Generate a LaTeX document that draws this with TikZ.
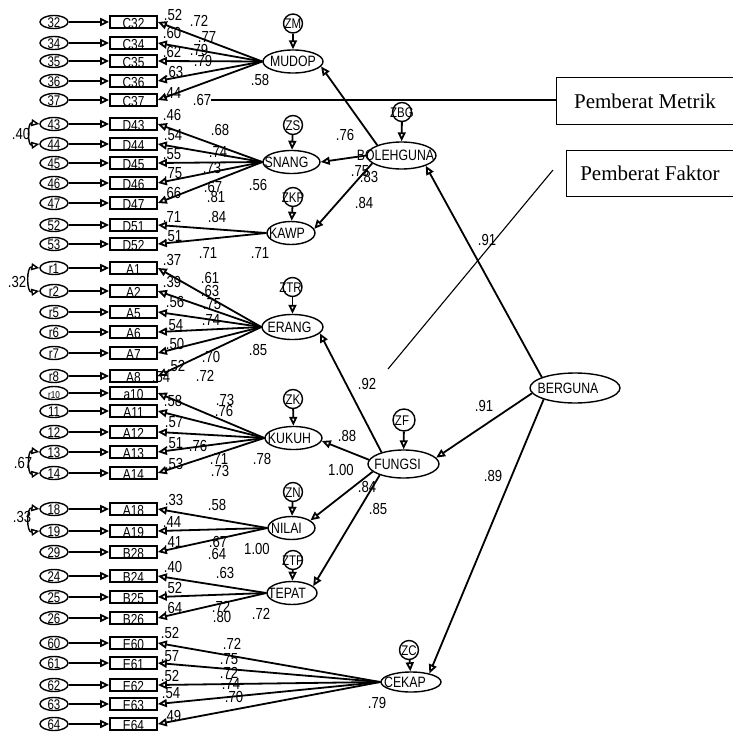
\documentclass[tikz,border=0pt]{standalone}
\usepackage{fontspec}
\setmainfont{Liberation Sans}[FakeStretch=0.82]
\newfontfamily\legendfont{Liberation Serif}
\usetikzlibrary{arrows.meta}
\usetikzlibrary{shapes.geometric}
\usetikzlibrary{positioning}

% text that does not size its node (optional left shift)
\newcommand{\zw}[2][0pt]{\makebox[0pt]{\kern-#1\raisebox{-.36em}[0pt][0pt]{#2}\kern#1}}
% text sitting low in an indicator box
\newcommand{\lowtxt}[1]{\makebox[0pt]{\raisebox{-.44em}[0pt][0pt]{#1}}}

\begin{document}
\begin{tikzpicture}[x=1pt,y=-1pt,
      latent/.style={ellipse, draw, line width=1.4pt, inner sep=0pt, minimum height=23pt, font=\fontsize{15}{15}\selectfont},
      indbox/.style={rectangle, draw, line width=1.7pt, inner sep=0pt, minimum width=47pt, minimum height=12pt, font=\fontsize{14.5}{14.5}\selectfont},
      err/.style={ellipse, draw, line width=1.4pt, inner sep=0pt, minimum width=28pt, minimum height=13pt, font=\fontsize{14}{14}\selectfont},
      dist/.style={circle, draw, line width=1.4pt, inner sep=0pt, minimum size=19pt, font=\fontsize{14}{14}\selectfont},
      arr/.style={-{Triangle[open,length=9pt,width=8pt]}, line width=1.8pt},
      corr/.style={{Triangle[open,length=8pt,width=7pt]}-{Triangle[open,length=8pt,width=7pt]}, line width=1.4pt},
      num/.style={inner sep=0pt, font=\fontsize{16}{16}\selectfont},
      legend/.style={inner sep=0pt, font=\legendfont\fontsize{21}{21}\selectfont}
      ]
      \useasboundingbox (0,0) rectangle (733,733);

      % Latent variables
      \node[latent, minimum width=60pt] (MUDOP) at (293,61.5) {\zw{MUDOP}};
      \node[latent, minimum width=57pt] (SNANG) at (291.5,162) {\zw[5pt]{SNANG}};
      \node[latent, minimum width=48pt] (KAWP) at (291,233) {\zw[4pt]{KAWP}};
      \node[latent, minimum width=61pt, minimum height=25pt] (ERANG) at (292.5,327) {\zw[3pt]{ERANG}};
      \node[latent, minimum width=57pt] (KUKUH) at (293.5,438) {\zw[4pt]{KUKUH}};
      \node[latent, minimum width=47pt] (NILAI) at (291.5,528) {\zw[5pt]{NILAI}};
      \node[latent, minimum width=50pt] (TEPAT) at (292,593) {\zw[5pt]{TEPAT}};
      \node[latent, minimum width=60pt, minimum height=20pt] (CEKAP) at (411,682) {\zw[6pt]{CEKAP}};
      \node[latent, minimum width=69pt, minimum height=27pt] (BOLEHGUNA) at (401.5,155.5) {\zw[6pt]{BOLEHGUNA}};
      \node[latent, minimum width=90pt, minimum height=30pt] (BERGUNA) at (575,388) {\zw[7pt]{BERGUNA}};
      \node[latent, minimum width=71pt, minimum height=28pt] (FUNGSI) at (403.5,464) {\zw[6pt]{FUNGSI}};

      % Disturbances
      \node[dist] (ZM) at (293,23.5) {\zw{ZM}};
      \node[dist] (ZS) at (293,125) {\zw{ZS}};
      \node[dist] (ZKP) at (293,197) {\zw{ZKP}};
      \node[dist] (ZTR) at (292.5,287) {\zw[2pt]{ZTR}};
      \node[dist] (ZK) at (293,399) {\zw{ZK}};
      \node[dist] (ZN) at (293,492) {\zw{ZN}};
      \node[dist] (ZTP) at (293,560) {\zw{ZTP}};
      \node[dist, minimum size=22pt] (ZF) at (404,420) {\zw[2pt]{ZF}};
      \node[dist] (ZBG) at (402,112) {\zw{ZBG}};
      \node[dist] (ZC) at (409,650) {\zw{ZC}};

      \foreach \z/\l in {ZM/MUDOP, ZS/SNANG, ZKP/KAWP, ZTR/ERANG, ZK/KUKUH, ZN/NILAI, ZTP/TEPAT, ZF/FUNGSI, ZBG/BOLEHGUNA, ZC/CEKAP}
        \draw[arr] (\z) -- (\l);

      % Indicators, errors and loadings
      \foreach \id/\lbl/\elbl/\yy/\lat in {
          C32/C32/32/22/MUDOP, C34/C34/34/43/MUDOP, C35/C35/35/61/MUDOP,
          C36/C36/36/81/MUDOP, C37/C37/37/100/MUDOP,
          D43/D43/43/124/SNANG, D44/D44/44/144/SNANG, D45/D45/45/163/SNANG,
          D46/D46/46/183/SNANG, D47/D47/47/203/SNANG,
          D51/D51/52/225/KAWP, D52/D52/53/244/KAWP,
          A1/A1/r1/268/ERANG, A2/A2/r2/291/ERANG, A5/A5/r5/312/ERANG,
          A6/A6/r6/332/ERANG, A7/A7/r7/353/ERANG, A8/A8/r8/376/ERANG,
          a10/a10/{\fontsize{10}{10}\selectfont r10}/393/KUKUH, A11/A11/11/411/KUKUH,
          A12/A12/12/432/KUKUH, A13/A13/13/452/KUKUH, A14/A14/14/473/KUKUH,
          A18/A18/18/509/NILAI, A19/A19/19/531/NILAI, B28/B28/29/552/NILAI,
          B24/B24/24/576/TEPAT, B25/B25/25/597/TEPAT, B26/B26/26/618/TEPAT,
          E60/E60/60/643/CEKAP, E61/E61/61/663/CEKAP, E62/E62/62/685/CEKAP,
          E63/E63/63/704/CEKAP, E64/E64/64/724/CEKAP}{
        \node[indbox] (\id) at (133.5,\yy) {\lowtxt{\lbl}};
        \node[err] (e\id) at (54,\yy) {\zw{\elbl}};
        \draw[arr] (e\id) -- (\id);
        \draw[arr] (\lat.west) -- (\id.east);
      }

      % Error covariances
      \draw[corr] (eD43.west) .. controls +(-12,-2) and +(-12,2) .. (eD44.west);
      \draw[corr] (eA1.west) .. controls +(-13,-2) and +(-13,2) .. (eA2.west);
      \draw[corr] (eA13.west) .. controls +(-12,-2) and +(-12,2) .. (eA14.west);
      \draw[corr] (eA18.west) .. controls +(-13,-2) and +(-13,2) .. (eA19.west);
      \node[num] (cv1) at (21,134) {.40};
      \node[num] (cv2) at (17,282) {.32};
      \node[num] (cv3) at (23,463) {.67};
      \node[num] (cv4) at (22,517) {.33};

      % Structural paths
      \draw[arr] (BOLEHGUNA.157) -- (MUDOP.-10);
      \draw[arr] (BOLEHGUNA.west) -- (SNANG.east);
      \draw[arr] (BOLEHGUNA.195) -- (KAWP.10);
      \draw[arr] (BERGUNA.162) -- (BOLEHGUNA.-23);
      \draw[arr] (BERGUNA.187) -- (FUNGSI.11);
      \draw[arr] (BERGUNA.200) -- (CEKAP.25);
      \draw[arr] (FUNGSI.152) -- (ERANG.-13);
      \draw[arr] (FUNGSI.173) -- (KUKUH.-6);
      \draw[arr] (FUNGSI.194) -- (NILAI.22);
      \draw[arr] (FUNGSI.205) -- (TEPAT.18);

      % Estimates: MUDOP
      \foreach \x/\y/\t [count=\i] in {173/15/.52, 199/21/.72, 172/33/.60, 207/37/.77, 172/52/.62,
          199/50/.79, 203/61/.79, 174/72/.63, 172/93/.44, 260/80/.58}
        \node[num] (mu\i) at (\x,\y) {\t};
      \node[num] (mu67) at (202,100) {.67};
      % SNANG
      \foreach \x/\y/\t [count=\i] in {172/115/.46, 220/130/.68, 173/135/.54, 218/152/.74, 172/154/.55,
          212/168/.73, 173/173/.75, 213/187/.67, 172/193/.66, 216/197/.81, 258/185/.56}
        \node[num] (sn\i) at (\x,\y) {\t};
      % KAWP
      \foreach \x/\y/\t [count=\i] in {172/217/.71, 217/217/.84, 173/236/.51, 208/253/.71, 260/253/.71}
        \node[num] (kw\i) at (\x,\y) {\t};
      % ERANG
      \foreach \x/\y/\t [count=\i] in {172/260/.37, 210/278/.61, 172/282/.39, 210/291/.63, 175/302/.56,
          212/304/.75, 211/320/.74, 174/325/.54, 175/344/.50, 211/357/.70, 258/350/.85,
          176/366/.52, 205/376/.72}
        \node[num] (er\i) at (\x,\y) {\t};
      % KUKUH
      \foreach \x/\y/\t [count=\i] in {161/377/.54, 225/400/.73, 173/401/.58, 224/411/.76, 174/422/.57,
          174/443/.51, 198/446/.76, 219/459/.71, 174/464/.53, 220/471/.73, 262/459/.78}
        \node[num] (kk\i) at (\x,\y) {\t};
      % NILAI
      \foreach \x/\y/\t [count=\i] in {174/500/.33, 217/505/.58, 172/522/.44, 173/542/.41, 218/542/.67,
          217/554/.64, 257/549/1.00}
        \node[num] (ni\i) at (\x,\y) {\t};
      % TEPAT
      \foreach \x/\y/\t [count=\i] in {173/567/.40, 225/573/.63, 173/588/.52, 173/608/.64, 221/607/.72,
          222/617/.80, 261/614/.72}
        \node[num] (tp\i) at (\x,\y) {\t};
      % CEKAP
      \foreach \x/\y/\t [count=\i] in {170/633/.52, 232/644/.72, 170/656/.57, 229/659/.75, 170/676/.52,
          229/673/.72, 231/684/.74, 171/693/.54, 234/697/.70, 172/716/.49, 377/703/.79}
        \node[num] (ck\i) at (\x,\y) {\t};
      % structural
      \foreach \x/\y/\t [count=\i] in {345/135/.76, 360/171/.75, 369/177/.83, 364/203/.84, 487/240/.91,
          367/384/.92, 484/406/.91, 493/476/.89, 347/436/.88, 341/470/1.00, 367/487/.84, 378/509/.85}
        \node[num] (st\i) at (\x,\y) {\t};

      % Legend
      \node[legend, minimum width=176pt, minimum height=46pt] (leg1) at (645,101) {Pemberat Metrik};
      \node[legend, minimum width=166pt, minimum height=45pt] (leg2) at (650,173.5) {Pemberat Faktor};
      \draw[line width=1pt] (leg1.north east) -- (leg1.north west) -- (leg1.south west) -- (leg1.south east);
      \draw[line width=1pt] (leg2.north east) -- (leg2.north west) -- (leg2.south west) -- (leg2.south east);
      \coordinate (f1) at (388,369);
      \coordinate (f2) at (553,170);
      \draw[line width=1.1pt] (mu67.east) -- (mu67.east -| leg1.west);
      \draw[line width=1.1pt] (f1) -- (f2);

    \end{tikzpicture}
\end{document}
